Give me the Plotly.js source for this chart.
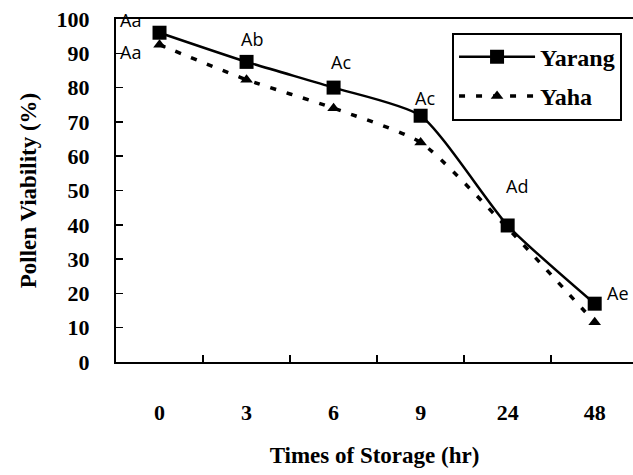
<!DOCTYPE html>
<html>
<head>
<meta charset="utf-8">
<script src="https://cdn.plot.ly/plotly-3.0.1.min.js"></script>
<style>html,body{margin:0;padding:0;background:#fff;}#chart{width:633px;height:475px;}</style>
</head>
<body>
<div id="chart"></div>
<script>
const categories = ['0', '3', '6', '9', '24', '48'];
const yarang = [96, 87.5, 80, 71.8, 39.8, 17];
const yaha = [92.5, 82.3, 74, 64, 39, 11.6];
const yarangLabels = ['Aa', 'Ab', 'Ac', 'Ac', 'Ad', 'Ae'];
const yahaLabels = ['Aa', '', '', '', '', ''];
const yTicks = [0, 10, 20, 30, 40, 50, 60, 70, 80, 90, 100];

const serif = 'Liberation Serif';
const sans = 'Open Sans';

const traces = [
  {
    x: categories, y: yarang, name: 'Yarang', type: 'scatter', mode: 'lines+markers',
    legendgroup: 'a',
    line: {color: '#000', width: 2.5, shape: 'spline', smoothing: 0.6},
    marker: {symbol: 'square', size: 14, color: '#000'}
  },
  {
    x: categories, y: yaha, name: 'Yaha', type: 'scatter', mode: 'lines+markers',
    legendgroup: 'b',
    line: {color: '#000', width: 3.5, dash: '6px,11px', shape: 'spline', smoothing: 0.6},
    marker: {symbol: 'triangle-up', size: 11, color: '#000'}
  }
];

const annotations = [];
const offs = [[-29, 13], [5, 23], [7, 26], [4, 18], [9, 39], [23, 11]];
yarangLabels.forEach((t, i) => {
  annotations.push({x: i, y: yarang[i], text: t, showarrow: false,
    xref: 'x', yref: 'y', xshift: offs[i][0], yshift: offs[i][1],
    font: {family: sans, size: 18, color: '#000'}});
});
yahaLabels.forEach((t, i) => {
  if (!t) return;
  annotations.push({x: i, y: yaha[i], text: t, showarrow: false,
    xref: 'x', yref: 'y', xshift: -29, yshift: -7,
    font: {family: sans, size: 18, color: '#000'}});
});

const layout = {
  width: 633, height: 475,
  margin: {l: 116, r: 0, t: 19, b: 113},
  paper_bgcolor: '#fff', plot_bgcolor: '#fff',
  font: {family: serif},
  showlegend: true,
  legend: {x: 0.65, y: 0.96, xanchor: 'left', yanchor: 'top',
    bordercolor: '#000', borderwidth: 2, bgcolor: '#fff',
    font: {family: serif, size: 24, color: '#000', weight: 'bold'},
    itemwidth: 76, tracegroupgap: 5},
  xaxis: {
    type: 'category', range: [-0.5, 5.44],
    showline: true, linecolor: '#000', linewidth: 2, mirror: true,
    ticks: 'inside', ticklen: 7, tickcolor: '#000', tickwidth: 1.5,
    tickson: 'boundaries', showgrid: false, zeroline: false,
    tickfont: {family: serif, size: 22, color: '#000', weight: 'bold'},
    ticklabelstandoff: 30,
    title: {text: 'Times of Storage (hr)', standoff: 22,
      font: {family: serif, size: 23, color: '#000', weight: 'bold'}}
  },
  yaxis: {
    range: [0, 100], tickvals: yTicks, ticktext: yTicks.map(String),
    showline: true, linecolor: '#000', linewidth: 2,
    ticks: 'inside', ticklen: 7, tickcolor: '#000', tickwidth: 1.5,
    showgrid: false, zeroline: false,
    tickfont: {family: serif, size: 22, color: '#000', weight: 'bold'},
    ticklabelstandoff: 20,
    title: {text: 'Pollen Viability (%)', standoff: 14,
      font: {family: serif, size: 23, color: '#000', weight: 'bold'}}
  },
  annotations: annotations
};

Plotly.newPlot('chart', traces, layout, {displayModeBar: false, staticPlot: true});
</script>
</body>
</html>
